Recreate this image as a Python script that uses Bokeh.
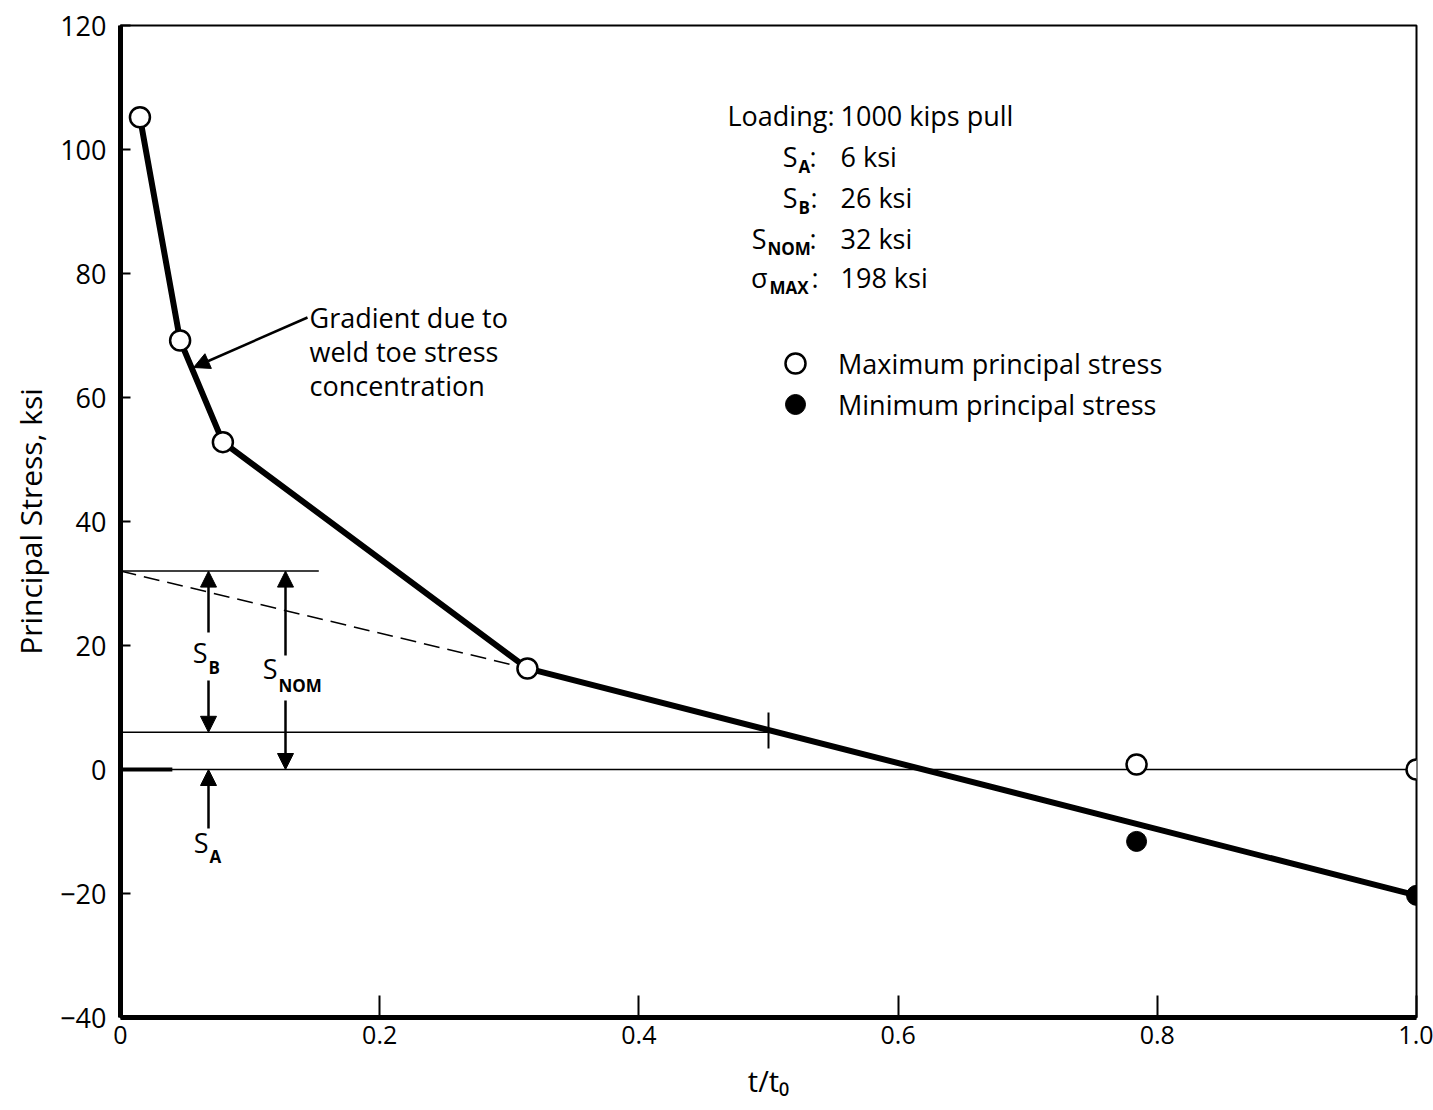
import math
from bokeh.plotting import figure
from bokeh.models import (FixedTicker, Arrow, NormalHead, Legend, LegendItem, Range1d)
from bokeh.core.properties import value
from bokeh.embed import file_html
from bokeh.resources import INLINE

# ---------------- data ----------------
max_x = [0.015, 0.046, 0.079, 0.314, 0.784, 1.0]
max_y = [105.2, 69.2, 52.8, 16.3, 0.8, 0.0]
min_x = [0.784, 1.0]
min_y = [-11.6, -20.3]
curve_x = [0.015, 0.046, 0.079, 0.314, 1.0]
curve_y = [105.2, 69.2, 52.8, 16.3, -20.3]

S_A = 6
S_B = 26
S_NOM = 32
SIGMA_MAX = 198
mid_depth = 0.5

x_ticks = [0, 0.2, 0.4, 0.6, 0.8, 1]
x_tick_labels = ["0", "0.2", "0.4", "0.6", "0.8", "1.0"]
y_ticks = [-40, -20, 0, 20, 40, 60, 80, 100, 120]
y_tick_labels = ["\u221240", "\u221220", "0", "20", "40", "60", "80", "100", "120"]

# ---------------- layout helpers ----------------
W, H = 1433, 1110
FL, FR, FT, FB = 120, 1416, 25, 1017
XMIN, XMAX, YMIN, YMAX = 0.0, 1.0, -40.0, 120.0


def dx(px):
    return XMIN + (px - FL) * (XMAX - XMIN) / (FR - FL)


def dy(py):
    return YMAX - (py - FT) * (YMAX - YMIN) / (FB - FT)


FONT = "Open Sans"
TS = "27px"
SUB = "17px"

p = figure(width=W, height=H, x_range=Range1d(XMIN, XMAX), y_range=Range1d(YMIN, YMAX),
           output_backend="svg", toolbar_location=None,
           min_border_left=FL, min_border_right=W - FR,
           min_border_top=FT, min_border_bottom=H - FB)
p.grid.visible = False
p.background_fill_color = "white"
p.border_fill_color = "white"
p.outline_line_color = "black"
p.outline_line_width = 2

for ax in (p.xaxis[0], p.yaxis[0]):
    ax.axis_line_width = 5
    ax.axis_line_color = "black"
    ax.major_tick_out = 0
    ax.minor_tick_line_color = None
    ax.major_tick_line_width = 2
    ax.major_tick_line_color = "black"
    ax.major_label_text_font = FONT
    ax.major_label_text_color = "black"
    ax.axis_label_text_font = FONT
    ax.axis_label_text_font_style = "normal"
    ax.axis_label_text_color = "black"

p.xaxis.ticker = FixedTicker(ticks=x_ticks)
p.xaxis.major_label_overrides = dict(zip(x_ticks, x_tick_labels))
p.xaxis.major_tick_in = 22
p.xaxis.major_label_text_font_size = "25px"
p.xaxis.major_label_standoff = 8
p.xaxis.axis_label = "t/t\u2080"
p.xaxis.axis_label_text_font_size = "29px"
p.xaxis.axis_label_standoff = 14

p.yaxis.ticker = FixedTicker(ticks=y_ticks)
p.yaxis.major_label_overrides = dict(zip(y_ticks, y_tick_labels))
p.yaxis.major_tick_in = 10
p.yaxis.major_label_text_font_size = "27px"
p.yaxis.major_label_standoff = 14
p.yaxis.axis_label = "Principal Stress, ksi"
p.yaxis.axis_label_text_font_size = "30px"
p.yaxis.axis_label_standoff = 6

# ---------------- reference lines ----------------
p.line([XMIN, XMAX], [0, 0], line_color="black", line_width=1.5)
p.line([XMIN, 0.04], [0, 0], line_color="black", line_width=4)
p.line([XMIN, 0.153], [S_NOM, S_NOM], line_color="black", line_width=1.5)
p.line([XMIN, mid_depth], [S_A, S_A], line_color="black", line_width=1.5)
p.line([mid_depth, mid_depth], [dy(748), dy(712)], line_color="black", line_width=2)
p.line([XMIN, curve_x[3]], [S_NOM, curve_y[3]], line_color="black", line_width=1.5,
       line_dash="16 8")

# ---------------- main curve and points ----------------
p.line(curve_x, curve_y, line_color="black", line_width=6)
r_max = p.scatter(max_x, max_y, size=20, marker="circle", fill_color="white",
                  line_color="black", line_width=2.5)
r_min = p.scatter(min_x, min_y, size=20, marker="circle", fill_color="black",
                  line_color="black")


def add_legend(label, rend, center_py):
    bottom_px = center_py + 25
    lg = Legend(items=[LegendItem(label=label, renderers=[rend])],
                location=(795 - 25 - FL, FB - bottom_px), glyph_width=50, glyph_height=50,
                label_standoff=18, padding=0, margin=0, border_line_color=None,
                background_fill_alpha=0, label_text_font=FONT,
                label_text_font_size=TS, label_text_color="black")
    p.add_layout(lg)


add_legend("Maximum principal stress", r_max, 363)
add_legend("Minimum principal stress", r_min, 404)

# ---------------- dimension arrows ----------------
def arrow(x0, y0, x1, y1, size=16):
    p.add_layout(Arrow(end=NormalHead(size=size, fill_color="black", line_color="black"),
                       x_start=x0, y_start=y0, x_end=x1, y_end=y1,
                       line_color="black", line_width=2.5))


xb = dx(208)
xn = dx(285)
arrow(xb, dy(632), xb, S_NOM)
arrow(xb, dy(680), xb, S_A)
arrow(xn, dy(655), xn, S_NOM)
arrow(xn, dy(700), xn, 0)
arrow(xb, dy(828), xb, 0)
arrow(dx(307), dy(317), dx(193), dy(367))


def txt(px, py, s, size=TS, align="left", style="normal"):
    p.text(x=[dx(px)], y=[dy(py)], text=[s], text_font=value(FONT), text_font_size=size,
           text_align=align, text_baseline="middle", text_color="black",
           text_font_style=style)


# dimension labels
txt(207, 652, "S", align="right")
txt(208, 667, "B", size=SUB, style="bold")
txt(277, 668, "S", align="right")
txt(278, 685, "NOM", size=SUB, style="bold")
txt(208, 842, "S", align="right")
txt(209, 856, "A", size=SUB, style="bold")

# gradient annotation
txt(309, 317, "Gradient due to")
txt(309, 351, "weld toe stress")
txt(309, 385, "concentration")

# info block
txt(834, 115, "Loading:", align="right")
txt(840, 115, "1000 kips pull")
txt(797, 156, "S", align="right")
txt(798, 166, "A", size=SUB, style="bold")
txt(809, 156, ":")
txt(840, 156, f"{S_A} ksi")
txt(797, 197, "S", align="right")
txt(798, 207, "B", size=SUB, style="bold")
txt(810, 197, ":")
txt(840, 197, f"{S_B} ksi")
txt(766, 238, "S", align="right")
txt(767, 248, "NOM", size=SUB, style="bold")
txt(809, 238, ":")
txt(840, 238, f"{S_NOM} ksi")
txt(767, 277, "\u03c3", align="right")
txt(769, 287, "MAX", size=SUB, style="bold")
txt(811, 277, ":")
txt(840, 277, f"{SIGMA_MAX} ksi")

open("out.html", "w").write(file_html(p, INLINE))
